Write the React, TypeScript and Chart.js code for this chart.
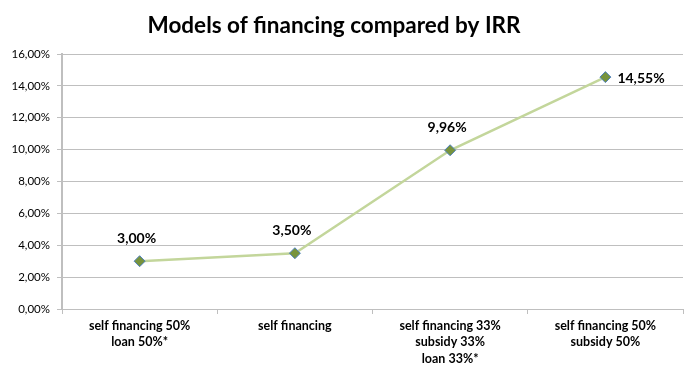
import React, { useEffect, useRef } from "react";
import { Chart, registerables } from "chart.js";

Chart.register(...registerables);

const TITLE = "Models of financing compared by IRR";
const categories: string[][] = [
  ["self financing 50%", "loan 50%*"],
  ["self financing"],
  ["self financing 33%", "subsidy 33%", "loan 33%*"],
  ["self financing 50%", "subsidy 50%"],
];
const irrValues = [3.0, 3.5, 9.96, 14.55];
const yMin = 0;
const yMax = 16;
const yStep = 2;

const FONT = "Lato, 'Open Sans', sans-serif";
const fmt = (v: number) => v.toFixed(2).replace(".", ",") + "%";

const titlePlugin = {
  id: "customTitle",
  afterDraw(chart: any) {
    const ctx = chart.ctx;
    ctx.save();
    ctx.font = `bold 22.5px ${FONT}`;
    ctx.fillStyle = "#000";
    ctx.textAlign = "center";
    ctx.textBaseline = "middle";
    ctx.fillText(TITLE, 333, 25);
    ctx.restore();
  },
};

const dataLabelPlugin = {
  id: "dataLabels",
  afterDatasetsDraw(chart: any) {
    const ctx = chart.ctx;
    const meta = chart.getDatasetMeta(0);
    ctx.save();
    ctx.font = `bold 14px ${FONT}`;
    ctx.fillStyle = "#000";
    meta.data.forEach((pt: any, i: number) => {
      const txt = fmt(irrValues[i]);
      if (i === irrValues.length - 1) {
        ctx.textAlign = "left";
        ctx.textBaseline = "middle";
        ctx.fillText(txt, pt.x + 12, pt.y + 1);
      } else {
        ctx.textAlign = "center";
        ctx.textBaseline = "middle";
        ctx.fillText(txt, pt.x - 3, pt.y - 23);
      }
    });
    ctx.restore();
  },
};

export default function App() {
  const ref = useRef<HTMLCanvasElement>(null);
  useEffect(() => {
    if (!ref.current) return;
    const chart = new Chart(ref.current, {
      type: "line",
      data: {
        labels: categories,
        datasets: [
          {
            data: irrValues,
            borderColor: "#c3d69b",
            borderWidth: 2.5,
            pointStyle: "rectRot",
            pointRadius: 5.5,
            pointBackgroundColor: "#77933c",
            pointBorderColor: "#4f81bd",
            pointBorderWidth: 1,
            tension: 0,
          },
        ],
      },
      options: {
        responsive: false,
        animation: false,
        layout: { padding: { left: 6, right: 14, top: 53, bottom: 0 } },
        plugins: {
          legend: { display: false },
          tooltip: { enabled: false },
          title: { display: false },
        },
        scales: {
          x: {
            offset: true,
            grid: {
              offset: true,
              drawOnChartArea: false,
              drawTicks: true,
              tickLength: 5,
              color: "#bfbfbf",
            },
            border: { color: "#bfbfbf", width: 1 },
            ticks: {
              color: "#000",
              font: { family: FONT, size: 12.5, weight: "bold", lineHeight: 1.3 },
              padding: 4,
              maxRotation: 0,
              autoSkip: false,
            },
            afterFit(scale: any) {
              scale.height = 69;
            },
          },
          y: {
            min: yMin,
            max: yMax,
            ticks: {
              stepSize: yStep,
              color: "#000",
              font: { family: FONT, size: 11.5 },
              padding: 7,
              callback: (v: any) => fmt(Number(v)),
            },
            grid: { color: "#bfbfbf", tickLength: 5, lineWidth: 1 },
            border: { color: "#bfbfbf", width: 2 },
            afterFit(scale: any) {
              scale.width = 55;
            },
          },
        },
      },
      plugins: [dataLabelPlugin, titlePlugin],
    });
    return () => chart.destroy();
  }, []);
  return (
    <div
      style={{
        width: 696,
        height: 377,
        border: "1px solid #8c8c8c",
        margin: -8,
        background: "#fff",
      }}
    >
      <canvas ref={ref} width={696} height={377} />
    </div>
  );
}
